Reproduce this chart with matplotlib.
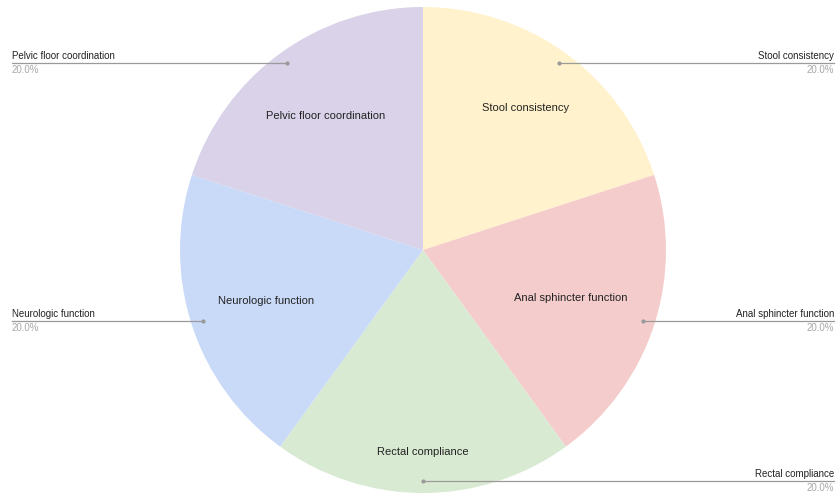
import matplotlib
matplotlib.use("Agg")
import matplotlib.pyplot as plt
import numpy as np

labels = ["Stool consistency", "Anal sphincter function", "Rectal compliance",
          "Neurologic function", "Pelvic floor coordination"]
values = [20, 20, 20, 20, 20]
colors = ["#FFF2CC", "#F4CCCC", "#D9EAD3", "#C9DAF8", "#D9D2E9"]
inner_r = [0.72, 0.64, 0.83, 0.68, 0.68]

W, H = 836, 495
fig = plt.figure(figsize=(W / 100, H / 100), dpi=100)
ax = fig.add_axes([0, 0, 1, 1])

cx, cy, R = 423, 245, 243
wedges, _ = ax.pie(values, colors=colors, startangle=90, counterclock=False,
                   center=(cx, cy), radius=R, frame=True,
                   wedgeprops=dict(linewidth=0))
ax.set_xlim(0, W)
ax.set_ylim(0, H)
ax.set_aspect("equal")
ax.axis("off")

font = "Liberation Sans"
total = sum(values)
for w, lab, v, ir in zip(wedges, labels, values, inner_r):
    ang = np.deg2rad((w.theta1 + w.theta2) / 2)
    ax.text(cx + ir * R * np.cos(ang), cy + ir * R * np.sin(ang), lab,
            ha="center", va="center", fontsize=8, family=font, color="#222222")
    px, py = cx + 0.95 * R * np.cos(ang), cy + 0.95 * R * np.sin(ang)
    right = np.cos(ang) > -1e-6
    ex = W - 2 if right else 12
    ax.plot([px, ex], [py, py], color="#9a9a9a", lw=0.9)
    ax.plot([px], [py], marker="o", ms=2, color="#9a9a9a")
    ha = "right" if right else "left"
    tx = W - 2 if right else 12
    ax.text(tx, py + 2, lab, ha=ha, va="bottom", fontsize=7, family=font,
            color="#222222")
    ax.text(tx, py - 2, f"{v / total * 100:.1f}%", ha=ha, va="top", fontsize=7,
            family=font, color="#a8a8a8")

fig.savefig("out.png", dpi=100, facecolor="white")
